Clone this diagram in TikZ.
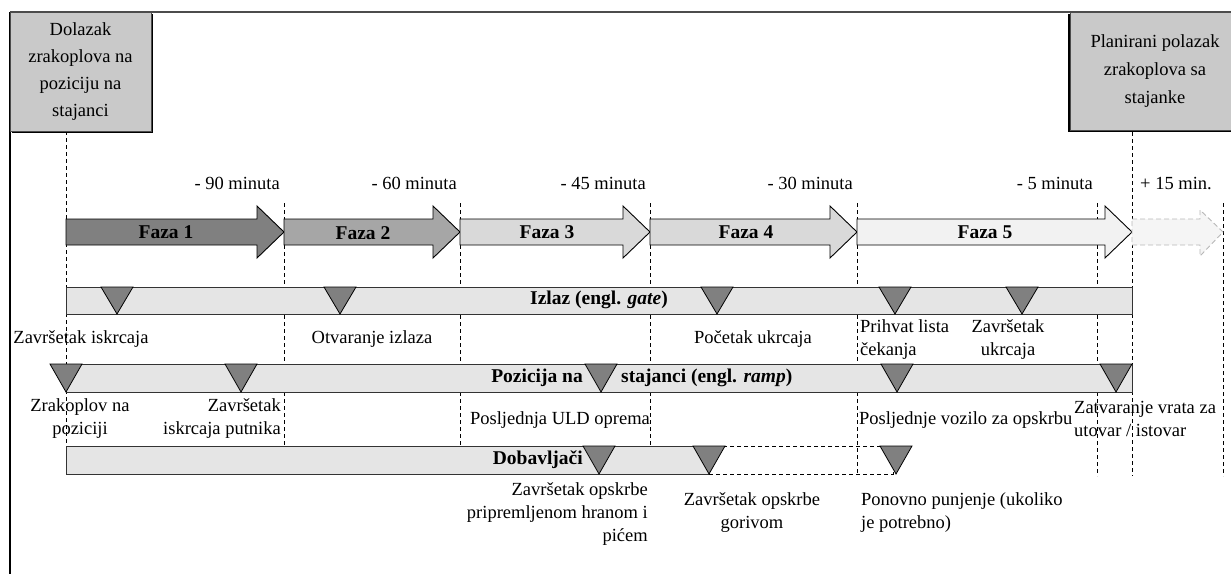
\documentclass[tikz,border=0pt]{standalone}
\usepackage{fontspec}
\setmainfont{Liberation Serif}
\definecolor{boxfill}{gray}{0.79}
\definecolor{fa}{gray}{0.50}
\definecolor{fb}{gray}{0.65}
\definecolor{fc}{gray}{0.85}
\definecolor{fd}{gray}{0.85}
\definecolor{fe}{gray}{0.95}
\definecolor{barfill}{gray}{0.90}
\definecolor{trifill}{gray}{0.50}
\definecolor{ghostfill}{gray}{0.96}
\definecolor{ghostdraw}{gray}{0.72}
\newcommand\myfs{\fontsize{18.5}{23}\selectfont}
\newcommand\myfsb{\fontsize{19.5}{23}\selectfont\bfseries}
\newcommand\phasearrow[3]{%
  \draw[arrowline, fill=#3] (#1,219) -- ({#2-27},219) -- ({#2-27},206) -- (#2,232) -- ({#2-27},258) -- ({#2-27},245) -- (#1,245) -- cycle;}
\newcommand\tridown[3]{% tip x, top y, bottom y
  \draw[tri] ({#1-16},#2) -- ({#1+16},#2) -- (#1,#3) -- cycle;}
\begin{document}
\begin{tikzpicture}[x=1pt,y=-1pt,
  txt/.style={font=\myfs, inner sep=0pt},
  bold/.style={font=\myfsb, inner sep=0pt},
  vdash/.style={line width=0.8pt, dash pattern=on 4pt off 3pt},
  arrowline/.style={draw=black, line width=0.9pt},
  bar/.style={draw=black!80, fill=barfill, line width=1pt},
  tri/.style={draw=black, fill=trifill, line width=0.8pt},
  box/.style={draw=black!70, fill=boxfill, line width=0.8pt, inner sep=0pt, align=center, font=\myfs}]
\useasboundingbox (0,0) rectangle (1231,574);
% frame
\draw[line width=1.5pt, black!70] (10,12) -- (1231,12);
\draw[line width=1.5pt, black] (10,12) -- (10,574);
% vertical dashed guides
\draw[vdash] (66,131) -- (66,446);
\draw[vdash] (284,203) -- (284,446);
\draw[vdash] (460,203) -- (460,446);
\draw[vdash] (650,203) -- (650,446);
\draw[vdash] (857,203) -- (857,474);
\draw[vdash] (1097,203) -- (1097,476);
\draw[vdash] (1132,132) -- (1132,476);
\draw[vdash] (1223,203) -- (1223,476);
% boxes with shadows
\fill[black] (12,14) rectangle (153,133);
\node[box, minimum width=141pt, minimum height=119pt, font=\fontsize{18.5}{26.7}\selectfont] (arrival) at (80.5,71.5) {Dolazak\\zrakoplova na\\poziciju na\\stajanci};
\fill[black] (1068,14) rectangle (1240,132);
\node[box, minimum width=170pt, minimum height=118pt, font=\fontsize{18.5}{28}\selectfont] (departure) at (1155,71) {Planirani polazak\\zrakoplova sa\\stajanke};
% time labels
\node[txt, anchor=east] (t90) at (280,183) {- 90 minuta};
\node[txt, anchor=east] (t60) at (457,183) {- 60 minuta};
\node[txt, anchor=east] (t45) at (646,183) {- 45 minuta};
\node[txt, anchor=east] (t30) at (853,183) {- 30 minuta};
\node[txt, anchor=east] (t5) at (1093,183) {- 5 minuta};
\node[txt, anchor=west] (t15) at (1140,183) {+ 15 min.};
% phase arrows
\phasearrow{66}{284}{fa}
\phasearrow{284}{460}{fb}
\phasearrow{460}{650}{fc}
\phasearrow{650}{857}{fd}
\phasearrow{857}{1132}{fe}
\draw[draw=ghostdraw, fill=ghostfill, line width=0.9pt, dash pattern=on 5pt off 3pt] (1132,219) -- (1200,219) -- (1200,210) -- (1223,232) -- (1200,256) -- (1200,245) -- (1132,245) -- cycle;
\node[bold] (f1) at (166,232) {Faza 1};
\node[bold] (f2) at (363,233) {Faza 2};
\node[bold] (f3) at (547,232) {Faza 3};
\node[bold] (f4) at (746,232) {Faza 4};
\node[bold] (f5) at (985,232) {Faza 5};
% bars
\draw[bar] (66,287) rectangle (1132,314);
\draw[bar] (66,364) rectangle (1132,392);
\draw[bar] (66,446) rectangle (709,474);
\draw[vdash] (709,446) rectangle (893,474);
\node[bold] (gate) at (599,300) {Izlaz (engl. \textit{gate})};
\node[bold, anchor=east] (ramp1) at (583,378) {Pozicija na};
\node[bold, anchor=west] (ramp2) at (621,378) {stajanci (engl. \textit{ramp})};
\node[bold, anchor=east] (supp) at (583,460) {Dobavljači};
% triangles
\tridown{117}{287}{314}
\tridown{340}{287}{314}
\tridown{717}{287}{314}
\tridown{895}{287}{314}
\tridown{1022}{287}{314}
\tridown{66}{364}{392}
\tridown{241}{364}{392}
\tridown{601}{364}{392}
\tridown{897}{364}{392}
\tridown{1116}{364}{392}
\tridown{599}{446}{474}
\tridown{709}{446}{474}
\tridown{896}{446}{474}
% labels
\node[txt] (l1) at (81,339) {Završetak iskrcaja};
\node[txt] (l2) at (372,339) {Otvaranje izlaza};
\node[txt] (l3) at (753,339) {Početak ukrcaja};
\node[txt, align=left, anchor=west] (l4) at (860,340) {Prihvat lista\\čekanja};
\node[txt, align=center] (l5) at (1008,340) {Završetak\\ukrcaja};
\node[txt, align=center] (l6) at (80,419) {Zrakoplov na\\poziciji};
\node[txt, align=right, anchor=east] (l7) at (281,419) {Završetak\\iskrcaja putnika};
\node[txt] (l8) at (560,420) {Posljednja ULD oprema};
\node[txt, anchor=west] (l9) at (859,420) {Posljednje vozilo za opskrbu};
\node[txt, align=left, anchor=west] (l10) at (1074,419) {Zatvaranje vrata za\\utovar / istovar};
\node[txt, align=right, anchor=east] (l11) at (648,514) {Završetak opskrbe\\pripremljenom hranom i\\pićem};
\node[txt, align=center] (l12) at (752,513) {Završetak opskrbe\\gorivom};
\node[txt, align=left, anchor=west] (l13) at (861,513) {Ponovno punjenje (ukoliko\\je potrebno)};
\end{tikzpicture}
\end{document}
